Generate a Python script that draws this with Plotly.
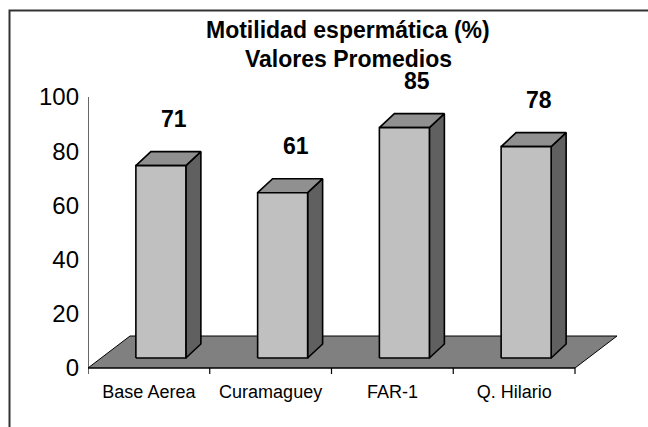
import plotly.graph_objects as go

categories = ["Base Aerea", "Curamaguey", "FAR-1", "Q. Hilario"]
values = [71, 61, 85, 78]
y_ticks = [0, 20, 40, 60, 80, 100]
title_lines = ["Motilidad espermática (%)", "Valores Promedios"]

W, H = 648, 427
L, T = 88, 97
PLOT_W, PLOT_H = 542, 278
PX_X = 121.75          # pixels per category unit
PX_Y = 2.71            # pixels per value unit
x_min = -0.5
x_max = x_min + PLOT_W / PX_X
y_max = 100
y_min = y_max - PLOT_H / PX_Y


def dx(p):
    return p / PX_X


def dy(p):
    return p / PX_Y


FONT = "Arial, Liberation Sans, sans-serif"
n = len(categories)

fig = go.Figure()

# floor
fx0, fx1 = -0.5, n - 0.5
fdx, fdy = dx(42), dy(32)
fig.add_trace(go.Scatter(
    x=[fx0, fx1, fx1 + fdx, fx0 + fdx, fx0],
    y=[0, 0, fdy, fdy, 0],
    mode="lines", fill="toself", fillcolor="#808080",
    line=dict(color="#000000", width=1), hoverinfo="skip", showlegend=False))

# bars
off_x, off_y = dx(12), dy(10)
hw = dx(25)
sdx, sdy = dx(15), dy(14)
for i, v in enumerate(values):
    xl, xr = i + off_x - hw, i + off_x + hw
    b, t = off_y, off_y + v
    # side
    fig.add_trace(go.Scatter(
        x=[xr, xr + sdx, xr + sdx, xr, xr], y=[b, b + sdy, t + sdy, t, b],
        mode="lines", fill="toself", fillcolor="#606060",
        line=dict(color="#000000", width=1.6), hoverinfo="skip", showlegend=False))
    # top
    fig.add_trace(go.Scatter(
        x=[xl, xr, xr + sdx, xl + sdx, xl], y=[t, t, t + sdy, t + sdy, t],
        mode="lines", fill="toself", fillcolor="#909090",
        line=dict(color="#000000", width=1.6), hoverinfo="skip", showlegend=False))
    # front
    fig.add_trace(go.Scatter(
        x=[xl, xr, xr, xl, xl], y=[b, b, t, t, b],
        mode="lines", fill="toself", fillcolor="#C0C0C0",
        line=dict(color="#000000", width=1.6), hoverinfo="skip", showlegend=False))
    fig.add_annotation(x=i + off_x + dx(13), y=t, text="<b>%d</b>" % v,
                       showarrow=False, yanchor="middle", yshift=47,
                       font=dict(family=FONT, size=23, color="#000000"))

# x axis line and ticks
ax_x, ax_y = [fx0, fx1], [0, 0]
for k in range(n + 1):
    ax_x += [None, k - 0.5, k - 0.5]
    ax_y += [None, 0, -dy(6)]
# y axis line and ticks
ax_x += [None, -0.5, -0.5]
ax_y += [None, 0, y_ticks[-1]]
for tv in y_ticks:
    ax_x += [None, -0.5 - dx(5), -0.5]
    ax_y += [None, tv, tv]
fig.add_trace(go.Scatter(x=ax_x, y=ax_y, mode="lines",
                         line=dict(color="#000000", width=1.2),
                         hoverinfo="skip", showlegend=False, cliponaxis=False))

# title
fig.add_annotation(xref="paper", yref="paper",
                   x=(348 - L) / PLOT_W, y=(T + PLOT_H - 30) / PLOT_H,
                   text="<b>%s</b>" % title_lines[0], showarrow=False,
                   yanchor="middle", font=dict(family=FONT, size=23, color="#000000"))
fig.add_annotation(xref="paper", yref="paper",
                   x=(348 - L) / PLOT_W, y=(T + PLOT_H - 59) / PLOT_H,
                   text="<b>%s</b>" % title_lines[1], showarrow=False,
                   yanchor="middle", font=dict(family=FONT, size=23, color="#000000"))

# frame
fig.add_shape(type="rect", xref="paper", yref="paper",
              x0=(9.5 - L) / PLOT_W, x1=(670 - L) / PLOT_W,
              y0=(T + PLOT_H - 450) / PLOT_H, y1=(T + PLOT_H - 10.5) / PLOT_H,
              line=dict(color="#333333", width=2), layer="below")

fig.update_layout(
    width=W, height=H,
    margin=dict(l=L, r=W - L - PLOT_W, t=T, b=H - T - PLOT_H, pad=0),
    paper_bgcolor="#FFFFFF", plot_bgcolor="rgba(0,0,0,0)",
    xaxis=dict(range=[x_min, x_max], tickvals=list(range(n)), ticktext=categories,
               showgrid=False, zeroline=False, showline=False, ticks="",
               ticklabelstandoff=4,
               tickfont=dict(family=FONT, size=18, color="#000000"), fixedrange=True),
    yaxis=dict(range=[y_min, y_max], tickvals=y_ticks, ticktext=[str(v) for v in y_ticks],
               showgrid=False, zeroline=False, showline=False, ticks="",
               ticklabelstandoff=8,
               tickfont=dict(family=FONT, size=24, color="#000000"), fixedrange=True),
    showlegend=False,
)

fig.write_html("out.html", config={"displayModeBar": False},
               post_script="document.body.style.margin='0';document.body.style.padding='0';")
